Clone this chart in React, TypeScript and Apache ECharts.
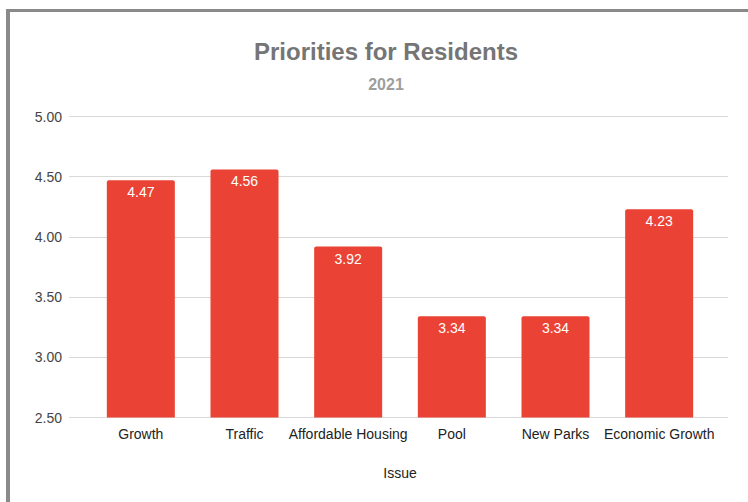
import React, { useEffect, useRef } from "react";
import * as echarts from "echarts";

const categories = ["Growth", "Traffic", "Affordable Housing", "Pool", "New Parks", "Economic Growth"];
const values = [4.47, 4.56, 3.92, 3.34, 3.34, 4.23];
const yMin = 2.5;
const yMax = 5.0;
const yStep = 0.5;
const titleText = "Priorities for Residents";
const subtitleText = "2021";
const xAxisName = "Issue";

const FONT = "'Liberation Sans', Arial, sans-serif";

export default function App() {
  const ref = useRef<HTMLDivElement>(null);
  useEffect(() => {
    document.body.style.margin = "0";
    const chart = echarts.init(ref.current!, null, { renderer: "svg" });
    chart.setOption({
      animation: false,
      backgroundColor: "#ffffff",
      textStyle: { fontFamily: FONT },
      title: [
        {
          text: titleText,
          left: 381,
          top: 34,
          textAlign: "center",
          textStyle: { fontSize: 24, fontWeight: "bold", color: "#757575", fontFamily: FONT },
        },
        {
          text: subtitleText,
          left: 381,
          top: 71,
          textAlign: "center",
          textStyle: { fontSize: 16, fontWeight: "bold", color: "#9e9e9e", fontFamily: FONT },
        },
      ],
      graphic: [
        { type: "rect", shape: { x: 6, y: 9, width: 742, height: 3 }, style: { fill: "#8a8a8a" }, silent: true },
        { type: "rect", shape: { x: 6, y: 9, width: 4, height: 493 }, style: { fill: "#8a8a8a" }, silent: true },
      ],
      grid: [
        { left: 69, right: 20, top: 116.5, bottom: 84.5 },
        { left: 89, right: 37, top: 116.5, bottom: 84.5 },
      ],
      xAxis: [
        { type: "value", gridIndex: 0, show: false, min: 0, max: 1 },
        {
          type: "category",
          gridIndex: 1,
          data: categories,
          axisLine: { show: false },
          axisTick: { show: false },
          axisLabel: { fontSize: 14, color: "#222222", margin: 9, interval: 0, fontFamily: FONT },
          name: xAxisName,
          nameLocation: "middle",
          nameGap: 48,
          nameTextStyle: { fontSize: 14, color: "#222222", fontFamily: FONT },
        },
      ],
      yAxis: [
        {
          type: "value",
          gridIndex: 0,
          min: yMin,
          max: yMax,
          interval: yStep,
          axisLine: { show: false },
          axisTick: { show: false },
          axisLabel: {
            fontSize: 14,
            color: "#444444",
            margin: 7,
            fontFamily: FONT,
            formatter: (v: number) => v.toFixed(2),
          },
          splitLine: { lineStyle: { color: "#d9d9d9", width: 1 } },
        },
        { type: "value", gridIndex: 1, min: yMin, max: yMax, show: false, splitLine: { show: false } },
      ],
      series: [
        {
          type: "bar",
          xAxisIndex: 1,
          yAxisIndex: 1,
          data: values,
          barWidth: 68,
          itemStyle: { color: "#ea4335", borderRadius: [2, 2, 0, 0] },
          label: {
            show: true,
            position: "insideTop",
            distance: 5,
            color: "#ffffff",
            fontSize: 14,
            fontFamily: FONT,
            formatter: (p: any) => Number(p.value).toFixed(2),
          },
        },
      ],
    });
    return () => chart.dispose();
  }, []);
  return <div ref={ref} style={{ width: 748, height: 502 }} />;
}
